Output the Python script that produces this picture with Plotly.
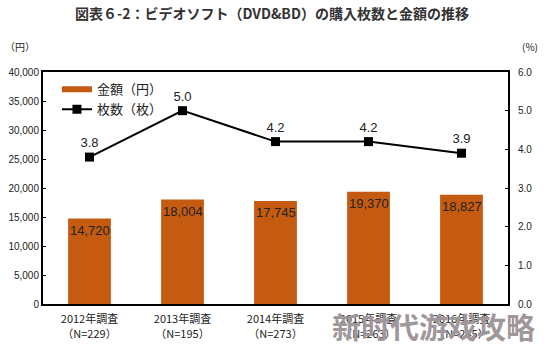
import plotly.graph_objects as go

categories = ["2012年調査<br>（N=229）", "2013年調査<br>（N=195）", "2014年調査<br>（N=273）",
              "2015年調査<br>（N=263）", "2016年調査<br>（N=245）"]
amounts = [14720, 18004, 17745, 19370, 18827]
counts = [3.8, 5.0, 4.2, 4.2, 3.9]
left_ticks = [0, 5000, 10000, 15000, 20000, 25000, 30000, 35000, 40000]
right_ticks = [0, 1, 2, 3, 4, 5, 6]

ORANGE = "#C55A11"
FONT = "Liberation Sans, Arial, Noto Sans CJK JP"

fig = go.Figure()
fig.add_trace(go.Bar(
    x=categories, y=amounts, marker=dict(color=ORANGE, line=dict(width=0)),
    width=0.46, showlegend=False, yaxis="y"))
# legend proxy for bar
fig.add_trace(go.Scatter(x=[None], y=[None], mode="lines", name="金額（円）",
                         line=dict(color=ORANGE, width=6), yaxis="y"))
fig.add_trace(go.Scatter(
    x=categories, y=counts, mode="lines+markers+text", name="枚数（枚）",
    line=dict(color="black", width=2), marker=dict(symbol="square", size=9, color="black"),
    text=[f"{v:.1f}" for v in counts], textposition="top center",
    textfont=dict(size=13, color="#222222", family=FONT), yaxis="y2", cliponaxis=False))

bar_labels = [dict(x=c, y=v, xref="x", yref="y", text=f"{v:,}", showarrow=False,
                   yanchor="top", yshift=-2, font=dict(size=13, color="#222222", family=FONT))
              for c, v in zip(categories, amounts)]

fig.update_layout(
    width=544, height=352, margin=dict(l=43, r=36, t=72, b=48, autoexpand=False),
    paper_bgcolor="white", plot_bgcolor="white",
    font=dict(family=FONT, size=11, color="#222222"),
    title=dict(text="<b>図表６-2：ビデオソフト（DVD&BD）の購入枚数と金額の推移</b>",
               x=0.5, xanchor="center", y=0.96, yanchor="middle",
               font=dict(size=14, color="#333333", family="Noto Sans CJK JP")),
    xaxis=dict(showline=True, linecolor="black", linewidth=2, mirror=True, automargin=False,
               ticks="", ticklabelstandoff=4,
               tickfont=dict(size=11, family="Noto Sans CJK JP", color="#222222")),
    yaxis=dict(range=[0, 40000], tickvals=left_ticks, tickformat=",", showgrid=False,
               showline=True, linecolor="black", linewidth=2, ticks="inside", ticklen=3,
               tickcolor="black", zeroline=False, automargin=False, tickfont=dict(size=10)),
    yaxis2=dict(range=[0, 6], tickvals=right_ticks, tickformat=".1f", overlaying="y",
                side="right", showgrid=False, showline=True, linecolor="black", linewidth=2,
                ticks="inside", ticklen=3, tickcolor="black", zeroline=False,
                automargin=False, ticklabelstandoff=6, tickfont=dict(size=10)),
    legend=dict(x=0.03, y=0.99, xanchor="left", yanchor="top", bgcolor="rgba(0,0,0,0)",
                font=dict(size=13, family="Noto Sans CJK JP"), itemwidth=30, tracegroupgap=4),
    annotations=bar_labels + [
        dict(text="（円）", xref="paper", yref="paper", x=-0.085, y=1.11, xanchor="left",
             yanchor="middle", showarrow=False, font=dict(size=10, family="Noto Sans CJK JP")),
        dict(text="(%)", xref="paper", yref="paper", x=1.068, y=1.11, xanchor="right",
             yanchor="middle", showarrow=False, font=dict(size=10, family="Noto Sans CJK JP")),
        dict(text="<b>新时代游戏攻略</b>", xref="paper", yref="paper", x=0.84, y=-0.095,
             xanchor="center", yanchor="middle", showarrow=False,
             font=dict(size=29, color="#a0979a", family="Noto Sans CJK SC")),
    ],
)
fig.write_html("out.html")
